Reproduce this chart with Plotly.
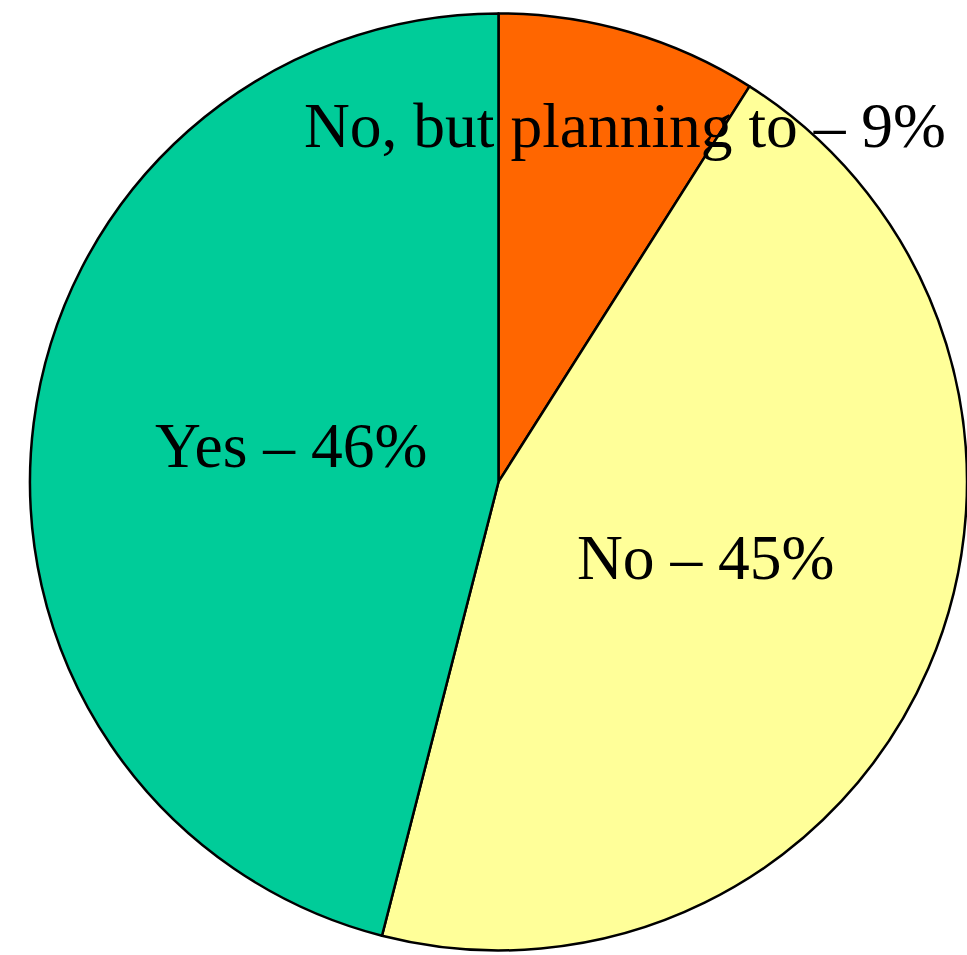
import plotly.graph_objects as go

# Survey answers, clockwise from 12 o'clock
labels = ["No, but planning to", "No", "Yes"]
values = [9, 45, 46]
colors = ["#FF6600", "#FFFF99", "#00CC99"]

# Label positions (paper coordinates) for the slice captions
label_x = [0.646, 0.730, 0.301]
label_y = [0.869, 0.416, 0.534]

W, H = 967, 955

fig = go.Figure(
    go.Pie(
        labels=labels,
        values=values,
        sort=False,
        direction="clockwise",
        rotation=0,
        marker=dict(colors=colors, line=dict(color="black", width=2.5)),
        textinfo="none",
        hoverinfo="label+percent",
        domain=dict(x=[0.031, 1.0], y=[0.0047, 0.986]),
        showlegend=False,
    )
)

for lab, v, x, y in zip(labels, values, label_x, label_y):
    fig.add_annotation(
        x=x, y=y, xref="paper", yref="paper",
        text=f"{lab} \u2013 {v}%",
        showarrow=False,
        xanchor="center", yanchor="middle",
        font=dict(family="Liberation Serif, Times New Roman, serif", size=63.5, color="black"),
    )

fig.update_layout(
    width=W, height=H,
    margin=dict(l=0, r=0, t=0, b=0),
    paper_bgcolor="white",
    plot_bgcolor="white",
)

fig.write_html("out.html")
